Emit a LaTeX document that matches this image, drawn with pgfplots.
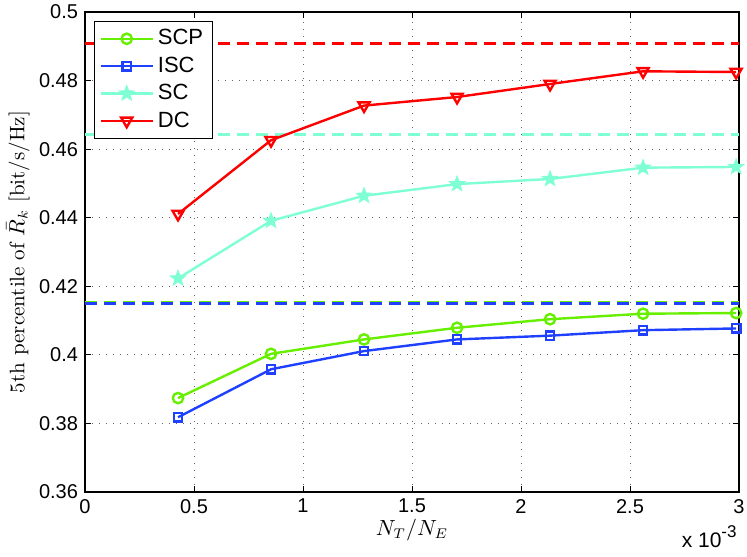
\documentclass[border=0pt]{standalone}
\usepackage{pgfplots}
\pgfplotsset{compat=1.18}
\usepackage{fontspec}
\newfontfamily\arial{Liberation Sans}
\usetikzlibrary{plotmarks}
\definecolor{cSCP}{RGB}{102,240,0}
\definecolor{cISC}{RGB}{32,64,255}
\definecolor{cSC}{RGB}{127,255,212}
\definecolor{cDC}{RGB}{255,0,0}
\pgfdeclareplotmark{pstar}{%
  \pgfpathmoveto{\pgfqpointpolar{90}{\pgfplotmarksize}}%
  \pgfpathlineto{\pgfqpointpolar{126}{0.42\pgfplotmarksize}}%
  \pgfpathlineto{\pgfqpointpolar{162}{\pgfplotmarksize}}%
  \pgfpathlineto{\pgfqpointpolar{198}{0.42\pgfplotmarksize}}%
  \pgfpathlineto{\pgfqpointpolar{234}{\pgfplotmarksize}}%
  \pgfpathlineto{\pgfqpointpolar{270}{0.42\pgfplotmarksize}}%
  \pgfpathlineto{\pgfqpointpolar{306}{\pgfplotmarksize}}%
  \pgfpathlineto{\pgfqpointpolar{342}{0.42\pgfplotmarksize}}%
  \pgfpathlineto{\pgfqpointpolar{18}{\pgfplotmarksize}}%
  \pgfpathlineto{\pgfqpointpolar{54}{0.42\pgfplotmarksize}}%
  \pgfpathclose\pgfusepathqfillstroke}
\begin{document}
\begin{tikzpicture}
\useasboundingbox (-42.5pt,-32pt) rectangle (331pt,246pt);
\begin{axis}[
  at={(0,0)}, anchor=south west,
  scale only axis, width=327pt, height=240pt,
  xmin=0, xmax=3, ymin=0.36, ymax=0.5,
  clip=false,
  xtick={0,0.5,...,3}, ytick={0.36,0.38,...,0.5},
  /pgf/number format/assume math mode=true,
  /pgf/number format/fixed, /pgf/number format/precision=2,
  ticklabel style={font=\arial\fontsize{10}{12}\selectfont},
  tick align=inside, major tick length=3pt,
  tick style={black, line width=0.5pt},
  axis line style={black, line width=0.6pt},
  grid=major,
  major grid style={black!60, line width=0.4pt, dash pattern=on 0.5pt off 3pt},
  xlabel={$N_T/N_E$},
  xlabel style={at={(axis description cs:0.5,0)}, anchor=center, yshift=-19pt, font=\fontsize{10.5}{12}\selectfont},
  ylabel={5th percentile of $\bar{R}_k$ [bit/s/Hz]},
  ylabel style={at={(axis description cs:-0.1025,0.5)}, anchor=center, font=\fontsize{10.5}{12}\selectfont},
  legend style={at={(0.0138,0.981)}, anchor=north west, draw=black, line width=0.5pt,
    font=\arial\fontsize{11}{13}\selectfont, inner xsep=2.5pt, inner ysep=2pt, row sep=0.5pt,
    /tikz/every even column/.append style={column sep=0pt}},
  legend cell align=left,
  legend image code/.code={\draw[mark repeat=2,mark phase=2,#1] plot coordinates {(0pt,0pt)(13pt,0pt)(26pt,0pt)};},
]
% dashed reference lines
\addplot[forget plot, cDC, line width=1.5pt, dash pattern=on 6pt off 3.5pt] coordinates {(0,0.4907)(3,0.4907)};
\addplot[forget plot, cSC, line width=1.5pt, dash pattern=on 6pt off 3.5pt] coordinates {(0,0.4643)(3,0.4643)};
\addplot[forget plot, cSCP, line width=1.5pt, dash pattern=on 6pt off 3.5pt] coordinates {(0,0.4152)(3,0.4152)};
\addplot[forget plot, cISC, line width=1.5pt, dash pattern=on 6pt off 3.5pt] coordinates {(0,0.4151)(3,0.4151)};
% curves
\addplot[cSCP, line width=1.2pt, mark=o, mark size=2.6pt, mark options={solid}] coordinates {
(0.4267,0.3874)(0.8533,0.4003)(1.28,0.4045)(1.7067,0.4079)(2.1333,0.4104)(2.56,0.4120)(2.9867,0.4122)};
\addlegendentry{SCP}
\addplot[cISC, line width=1.2pt, mark=square, mark size=2.1pt, mark options={solid}] coordinates {
(0.4267,0.3818)(0.8533,0.3958)(1.28,0.4011)(1.7067,0.4045)(2.1333,0.4056)(2.56,0.4072)(2.9867,0.4077)};
\addlegendentry{ISC}
\addplot[cSC, line width=1.2pt, mark=pstar, mark size=3.8pt, mark options={solid, fill=cSC, line width=0.6pt}] coordinates {
(0.4267,0.4223)(0.8533,0.4391)(1.28,0.4464)(1.7067,0.4498)(2.1333,0.4513)(2.56,0.4546)(2.9867,0.4548)};
\addlegendentry{SC}
\addplot[cDC, line width=1.2pt, mark=triangle, mark size=3.2pt, mark options={solid, rotate=180}] coordinates {
(0.4267,0.4411)(0.8533,0.4626)(1.28,0.4727)(1.7067,0.4752)(2.1333,0.4790)(2.56,0.4827)(2.9867,0.4825)};
\addlegendentry{DC}
\node[anchor=base east, inner sep=0pt, font=\arial\fontsize{10.5}{12}\selectfont] at ([xshift=-1pt,yshift=-27.5pt]rel axis cs:1,0) {x 10\raisebox{5pt}{\fontsize{8.5}{9}\selectfont -3}};
\end{axis}
\end{tikzpicture}
\end{document}
